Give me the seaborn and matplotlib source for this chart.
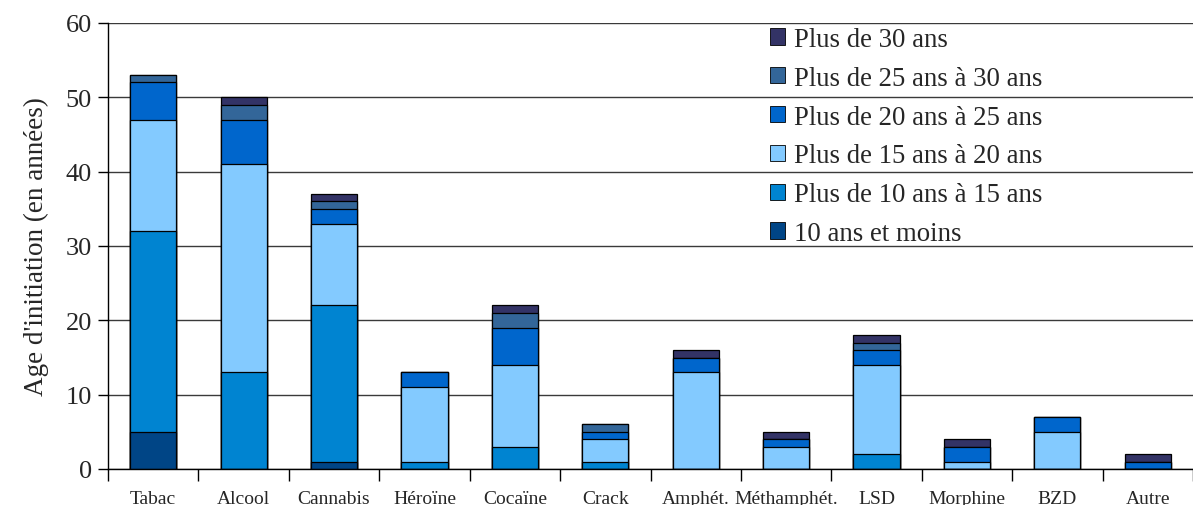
"""
Stacked bar chart: age at first use, per substance, by age bracket.
"""

import matplotlib
matplotlib.use('Agg')
import matplotlib.pyplot as plt
from matplotlib.patches import Patch
from matplotlib.ticker import MultipleLocator, FixedLocator
import numpy as np
import seaborn as sns

# Data
substances = ['Tabac', 'Alcool', 'Cannabis', 'Héroïne', 'Cocaïne', 'Crack',
              'Amphét.', 'Méthamphét.', 'LSD', 'Morphine', 'BZD', 'Autre']
age_groups = ['10 ans et moins', 'Plus de 10 ans à 15 ans', 'Plus de 15 ans à 20 ans',
              'Plus de 20 ans à 25 ans', 'Plus de 25 ans à 30 ans', 'Plus de 30 ans']
le_10 = [5, 0, 1, 0, 0, 0, 0, 0, 0, 0, 0, 0]
de_10_15 = [27, 13, 21, 1, 3, 1, 0, 0, 2, 0, 0, 0]
de_15_20 = [15, 28, 11, 10, 11, 3, 13, 3, 12, 1, 5, 0]
de_20_25 = [5, 6, 2, 2, 5, 1, 2, 1, 2, 2, 2, 1]
de_25_30 = [1, 2, 1, 0, 2, 1, 0, 0, 1, 0, 0, 0]
plus_30 = [0, 1, 1, 0, 1, 0, 1, 1, 1, 1, 0, 1]

COLORS = ['#004586', '#0084D1', '#83CAFF', '#0066CC', '#336699', '#333366']

sns.set_theme(style='white')
plt.rcParams['font.family'] = ['Liberation Serif', 'DejaVu Serif']

fig = plt.figure(figsize=(11.93, 5.06), dpi=100)
ax = fig.add_axes([108 / 1193, 1 - 470 / 506, 1 - 108 / 1193, 446 / 506])

# stack by drawing cumulative totals from the top layer down
layers = [le_10, de_10_15, de_15_20, de_20_25, de_25_30, plus_30]
cum = np.cumsum(np.array(layers), axis=0)
for i in range(len(layers) - 1, -1, -1):
    sns.barplot(x=substances, y=cum[i], color=COLORS[i], saturation=1,
                edgecolor='black', linewidth=0.9, width=0.51, ax=ax, zorder=3)

ax.set_ylim(0, 60)
ax.set_xlim(-0.5, len(substances) - 0.5)
ax.yaxis.set_major_locator(MultipleLocator(10))
ax.grid(axis='y', color='#3a3a3a', linewidth=1.0, zorder=0)
ax.set_axisbelow(True)

# x ticks: labels centred, tick marks between categories
ax.xaxis.set_minor_locator(FixedLocator(np.arange(-0.5, len(substances), 1.0)))
ax.tick_params(axis='x', which='major', length=0, pad=15, labelsize=14)
ax.tick_params(axis='x', which='minor', bottom=True, length=8.5, width=1.0,
               color='black', direction='out')
ax.tick_params(axis='y', left=True, length=7.5, width=1.0, color='black',
               direction='out', labelsize=19, pad=4)

for side in ['top', 'right']:
    ax.spines[side].set_visible(False)
for side in ['left', 'bottom']:
    ax.spines[side].set_color('black')
    ax.spines[side].set_linewidth(1.0)
    ax.spines[side].set_zorder(4)

ax.set_xlabel('')
ax.set_ylabel("Age d'initiation (en années)", fontsize=19.5, labelpad=12)

handles = [Patch(facecolor=COLORS[i], edgecolor='black', linewidth=0.6, label=age_groups[i])
           for i in range(len(age_groups) - 1, -1, -1)]
fig.legend(handles=handles, loc='upper left', bbox_to_anchor=(770 / 1193, 1 - 28 / 506),
           frameon=False, fontsize=19.3, handlelength=0.55, handleheight=0.55,
           handletextpad=0.35, labelspacing=0.515, borderaxespad=0, borderpad=0)

fig.savefig('out.png', dpi=100)
plt.close(fig)
